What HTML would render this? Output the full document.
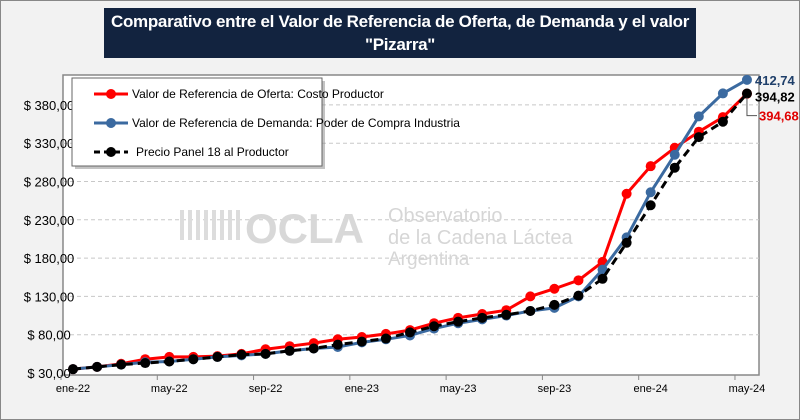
<!DOCTYPE html>
<html><head><meta charset="utf-8"><style>
body{margin:0;width:800px;height:420px;overflow:hidden;background:#fff;font-family:"Liberation Sans",sans-serif}
#frame{position:absolute;left:0;top:0;width:798px;height:418px;border:1px solid #888;background:#f2f2f2}
#title{position:absolute;left:104px;top:8px;width:592px;height:50px;background:#12233f;color:#fff;font-weight:bold;font-size:17px;text-align:center;line-height:23px;padding-top:2px;box-sizing:border-box;letter-spacing:-0.3px}
</style></head><body>
<div id="frame"></div>
<div id="title">Comparativo entre el Valor de Referencia de Oferta, de Demanda y el valor<br>"Pizarra"</div>
<svg id="chart" width="800" height="420" style="position:absolute;left:0;top:0"></svg>
<script>
const months=["ene-22","feb-22","mar-22","abr-22","may-22","jun-22","jul-22","ago-22","sep-22","oct-22","nov-22","dic-22","ene-23","feb-23","mar-23","abr-23","may-23","jun-23","jul-23","ago-23","sep-23","oct-23","nov-23","dic-23","ene-24","feb-24","mar-24","abr-24","may-24"];
const oferta=[35,38,42,48,51,51,52,55,61,65,69,74,77,81,86,95,102,107,112,130,140,151,175,264,300,324,345,364,394.68];
const demanda=[35,38,41,44,45,48,51,53,55,59,62,64,70,74,79,88,95,100,105,111,115,130,165,207,266,315,365,395,412.74];
const panel=[35,38,41,43,45,48,51,54,55,59,62,67,71,75,83,91,97,102,106,111,119,131,153,200,249,298,338,358,394.82];
const yTicks=[30,80,130,180,230,280,330,380];
const xLabelIdx=[0,4,8,12,16,20,24,28];
const NS="http://www.w3.org/2000/svg";
const svg=document.getElementById('chart');
const X0=73,DX=24.07,Y0=373,KY=0.766;
const xs=i=>X0+i*DX, ys=v=>Y0-(v-30)*KY;
function el(t,a,p){const e=document.createElementNS(NS,t);for(const k in a)e.setAttribute(k,a[k]);(p||svg).appendChild(e);return e;}
const plot=el('rect',{x:63,y:75,width:696,height:300,fill:'#fff',stroke:'#888','stroke-width':1.5});


yTicks.forEach(v=>{
  if(v>30){const g=el('line',{x1:63,x2:759,y1:ys(v),y2:ys(v),stroke:'#c8c8c8','stroke-dasharray':'4,3'});
  
  }
  const t=el('text',{x:49,y:ys(v)+5,'text-anchor':'middle','font-size':13,fill:'#000'});t.textContent='$ '+v.toFixed(2).replace('.',',');
  
  
});
for(let i=0;i<=7;i++){el('line',{x1:xs(i*4)-12,x2:xs(i*4)-12,y1:375,y2:380,stroke:'#888'});}
xLabelIdx.forEach(i=>{const t=el('text',{x:xs(i),y:392,'text-anchor':'middle','font-size':11,fill:'#000'});t.textContent=months[i];
  
  });
const wm=el('g',{fill:'#d6d6d6'});


el('path',{d:'M182 240 v-30 M190 240 v-30 M198 240 v-30 M206 240 v-30 M214 240 v-30 M222 240 v-30 M230 240 v-30 M238 240 v-30',stroke:'#dcdcdc','stroke-width':4},wm);
let w=el('text',{x:245,y:243,'font-size':42,'font-weight':'bold',fill:'#d8d8d8'},wm);w.textContent='OCLA';
w=el('text',{x:388,y:222,'font-size':20,fill:'#d6d6d6'},wm);w.textContent='Observatorio';
w=el('text',{x:388,y:244,'font-size':20,fill:'#d6d6d6'},wm);w.textContent='de la Cadena Láctea';
w=el('text',{x:388,y:265,'font-size':19,fill:'#d6d6d6'},wm);w.textContent='Argentina';
function series(data,color,dash,name){
  const g=el('g',{});
  
  
  el('polyline',{points:data.map((v,i)=>xs(i)+','+ys(v)).join(' '),fill:'none',stroke:color,'stroke-width':3,'stroke-dasharray':dash||''},g);
  data.forEach((v,i)=>{const c=el('circle',{cx:xs(i),cy:ys(v),r:5,fill:color},g);
    
    });
}
series(oferta,'#ff0000','','oferta-series');
series(demanda,'#3b6aa0','','demanda-series');
series(panel,'#000','8,5','panel-series');
const n=28;
let t=el('text',{x:755,y:ys(demanda[n])+5,'font-size':13,'font-weight':'bold',fill:'#1f3f6a'});t.textContent=demanda[n].toFixed(2).replace('.',',');

t=el('text',{x:755,y:ys(panel[n])+8,'font-size':13,'font-weight':'bold',fill:'#000'});t.textContent=panel[n].toFixed(2).replace('.',',');

el('polyline',{points:`${xs(n)},${ys(oferta[n])+4} ${xs(n)},${ys(oferta[n])+22} 757,${ys(oferta[n])+22}`,fill:'none',stroke:'#555'});
t=el('text',{x:759,y:ys(oferta[n])+27,'font-size':13,'font-weight':'bold',fill:'#e00000'});t.textContent=oferta[n].toFixed(2).replace('.',',');

const lg=el('g',{});


el('rect',{x:75,y:81,width:250,height:88,fill:'#888',opacity:0.5},lg);
el('rect',{x:72,y:78,width:250,height:88,fill:'#fff',stroke:'#666'},lg);
const items=[['Valor de Referencia de Oferta: Costo Productor','#ff0000',''],['Valor de Referencia de Demanda: Poder de Compra Industria','#3b6aa0',''],['Precio Panel 18 al Productor','#000','6,4']];
items.forEach((it,k)=>{const y=94+k*29;
  const g=el('g',{},lg);
  
  
  el('line',{x1:94,x2:128,y1:y,y2:y,stroke:it[1],'stroke-width':3,'stroke-dasharray':it[2]},g);
  el('circle',{cx:111,cy:y,r:5,fill:it[1]},g);
  const tt=el('text',{x:k==2?136:132,y:y+4,'font-size':12,fill:'#000'},g);tt.textContent=it[0];
});
</script>
</body></html>
